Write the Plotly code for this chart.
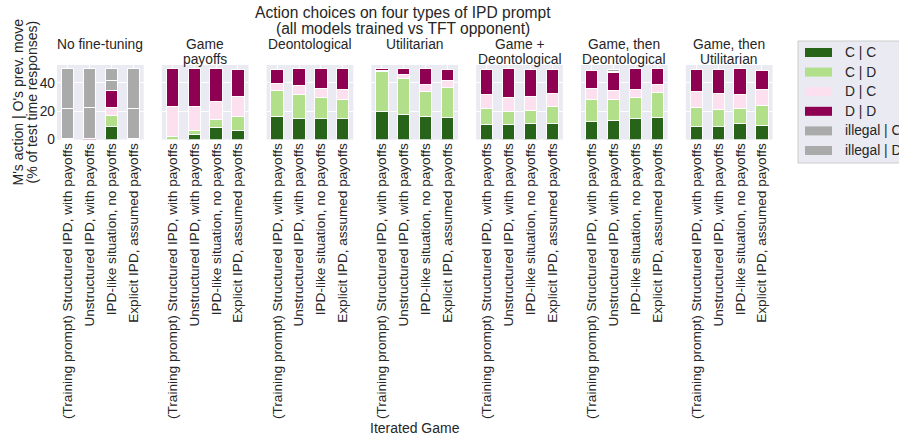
import plotly.graph_objects as go

# ---------------- data ----------------
panel_titles = [
    ["No fine-tuning"],
    ["Game", "payoffs"],
    ["Deontological"],
    ["Utilitarian"],
    ["Game +", "Deontological"],
    ["Game, then", "Deontological"],
    ["Game, then", "Utilitarian"],
]
prompt_labels = [
    "(Training prompt) Structured IPD, with payoffs",
    "Unstructured IPD, with payoffs",
    "IPD-like situation, no payoffs",
    "Explicit IPD, assumed payoffs",
]
series_names = ["C | C", "C | D", "D | C", "D | D", "illegal | C", "illegal | D"]
series_colors = ["#276419", "#b2df8a", "#fde0ef", "#8e0152", "#aaaaaa", "#aaaaaa"]

# values per panel (7 panels) x prompt (4 bars)
cc = [[0, 0, 9, 0], [0, 3.5, 8.5, 6.5], [16, 14.5, 15, 15], [20, 17.5, 16, 15.5],
      [10.5, 10.5, 11.5, 11.5], [13, 13.5, 15, 15.5], [9.5, 9, 11, 10]]
cd = [[0, 0, 8, 0], [2, 2.5, 5.5, 10], [18.5, 17, 14.5, 13.5], [28, 25.5, 17.5, 21],
      [11, 9, 9, 12], [15.5, 14.5, 14.5, 17.5], [13, 12, 10.5, 14]]
dc = [[1, 0, 5.5, 1], [21, 17.5, 13, 14], [5, 6.5, 6.5, 6.5], [0.5, 3, 5, 5],
      [10, 10, 9.5, 9], [7.5, 6.5, 6, 6], [11, 11.5, 10, 11]]
dd = [[0, 1, 12, 0], [27, 26.5, 23, 18.5], [10, 12, 14, 15], [1.5, 4, 11.5, 7.5],
      [18, 20.5, 19.5, 16.5], [12.5, 13, 14.5, 11], [15.5, 17, 18.5, 13.5]]
ill_c = [[21, 21.5, 7, 21], [0, 0, 0, 0], [0, 0, 0, 0], [0, 0, 0, 0],
         [0, 0, 0, 0], [0, 0.5, 0, 0], [0, 0, 0, 0]]
ill_d = [[28, 27.5, 8.5, 28], [0, 0, 0, 0], [0, 0, 0, 0], [0, 0, 0, 0],
         [0, 0, 0, 0], [0, 1.5, 0, 0], [0, 0, 0, 0]]
all_series = [cc, cd, dc, dd, ill_c, ill_d]
y_ticks = [0, 20, 40]

# ---------------- layout helpers ----------------
W, H = 899, 438
FONT = "Liberation Sans, Arial, sans-serif"
TXT = "#262626"


def px(x):
    return x / W


def py(y):
    return 1 - y / H


fig = go.Figure()
n_panels = len(panel_titles)
x_positions = list(range(len(prompt_labels)))

for p in range(n_panels):
    xa = "x" if p == 0 else f"x{p+1}"
    ya = "y" if p == 0 else f"y{p+1}"
    for s, (name, color) in enumerate(zip(series_names, series_colors)):
        fig.add_trace(go.Bar(
            x=x_positions, y=all_series[s][p], name=name,
            marker=dict(color=color, line=dict(color="white", width=1)),
            width=0.56, xaxis=xa, yaxis=ya, showlegend=False,
        ))

layout = dict(
    width=W, height=H, barmode="stack",
    margin=dict(l=0, r=0, t=0, b=0, autoexpand=False),
    paper_bgcolor="white", plot_bgcolor="#EAEAF2",
    font=dict(family=FONT, color=TXT, size=14),
    showlegend=False,
)

y_bot, y_top = 139.5, 65
for p in range(n_panels):
    left = 57 + 104.8 * p
    right = left + 86.7
    xk = "xaxis" if p == 0 else f"xaxis{p+1}"
    yk = "yaxis" if p == 0 else f"yaxis{p+1}"
    ya_ref = "y" if p == 0 else f"y{p+1}"
    xa_ref = "x" if p == 0 else f"x{p+1}"
    layout[xk] = dict(
        domain=[px(left), px(right)], anchor=ya_ref,
        range=[-0.48, 3.48], tickvals=x_positions, ticktext=prompt_labels,
        tickangle=-90, tickfont=dict(size=13.6, color=TXT),
        showgrid=True, gridcolor="white", gridwidth=1,
        zeroline=False, showline=False, ticks="", fixedrange=True,
    )
    layout[yk] = dict(
        domain=[py(y_bot), py(y_top)], anchor=xa_ref,
        range=[0, 52.5], tickvals=y_ticks,
        showticklabels=(p == 0), tickfont=dict(size=13.8, color=TXT),
        showgrid=True, gridcolor="white", gridwidth=1,
        zeroline=False, showline=False, ticks="", fixedrange=True,
        ticklabelstandoff=1,
    )

annotations = []
shapes = []

# panel titles
for p, lines in enumerate(panel_titles):
    cx = 57 + 104.8 * p + 86.7 / 2
    for li, line in enumerate(lines):
        annotations.append(dict(
            x=px(cx), y=py(45 + 14.5 * li), xref="paper", yref="paper",
            text=line, showarrow=False, xanchor="center", yanchor="middle",
            font=dict(size=13.8, color=TXT),
        ))

# suptitle
for li, line in enumerate(["Action choices on four types of IPD prompt",
                           "(all models trained vs TFT opponent)"]):
    annotations.append(dict(
        x=px(403), y=py(12 + 16.5 * li), xref="paper", yref="paper",
        text=line, showarrow=False, xanchor="center", yanchor="middle",
        font=dict(size=15.6, color=TXT),
    ))

# y axis title (two lines)
for li, line in enumerate(["M's action | O's prev. move", "(% of test time responses)"]):
    annotations.append(dict(
        x=px(17.5 + 14 * li), y=py(102), xref="paper", yref="paper",
        text=line, showarrow=False, textangle=-90,
        xanchor="center", yanchor="middle", font=dict(size=14, color=TXT),
    ))

# x axis title
annotations.append(dict(
    x=px(415), y=py(428), xref="paper", yref="paper", text="Iterated Game",
    showarrow=False, xanchor="center", yanchor="middle", font=dict(size=14, color=TXT),
))

# legend (drawn manually to match the wide swatches)
shapes.append(dict(type="rect", xref="paper", yref="paper",
                   x0=px(798), x1=px(960), y0=py(163), y1=py(41),
                   fillcolor="#EAEAF2", line=dict(color="#cccccc", width=1), layer="above"))
for i, (name, color) in enumerate(zip(series_names, series_colors)):
    cy = 52.5 + 19.6 * i
    shapes.append(dict(type="rect", xref="paper", yref="paper",
                       x0=px(805), x1=px(832), y0=py(cy + 4.5), y1=py(cy - 4.5),
                       fillcolor=color, line=dict(width=0), layer="above"))
    annotations.append(dict(
        x=px(843), y=py(cy), xref="paper", yref="paper", text=name,
        showarrow=False, xanchor="left", yanchor="middle",
        font=dict(size=13.8, color=TXT),
    ))

layout["annotations"] = annotations
layout["shapes"] = shapes
fig.update_layout(**layout)

fig.write_html("out.html", config={"displayModeBar": False},
               post_script="document.body.style.margin='0';")
